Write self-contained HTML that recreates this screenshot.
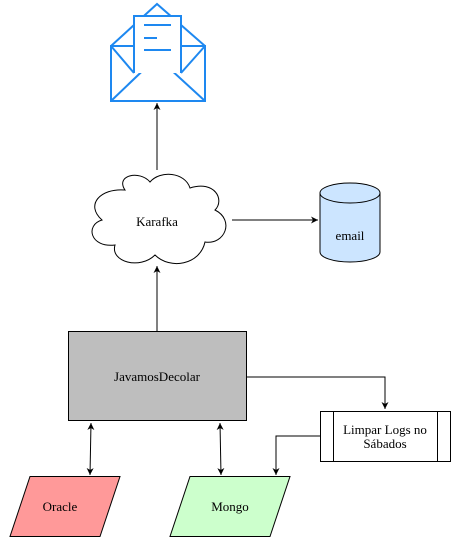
<html><body style="margin:0;background:#fff">
<svg width="451" height="537" xmlns="http://www.w3.org/2000/svg" style="font-family:'Liberation Serif',serif;font-size:13px">
<defs><marker id="a" markerWidth="8" markerHeight="8" refX="7" refY="4" orient="auto-start-reverse" markerUnits="userSpaceOnUse"><path d="M0,0.5 L7,4 L0,7.5 L2,4 z" fill="#000"/></marker></defs>
<g fill="none" stroke="#1e88f0" stroke-width="2">
<rect x="111" y="46" width="94" height="55"/>
<path d="M111,46 L157,4 L205,46"/>
<path d="M111,101 L157,57 L205,101"/>
<path d="M134,73 L134,16 L181,16 L181,73" fill="#fff"/>
<path d="M111,46 L134,73 M205,46 L181,73"/>
<path d="M144,25 L171,25 M144,38 L157,38 M144,50 L171,50"/>
</g>
<path d="M157,170 L157,103" stroke="#000" marker-end="url(#a)"/>
<path d="M125,190 C115,175 140,170 150,182 C160,170 185,172 190,188 C215,180 225,200 215,210 C235,220 225,245 205,242 C200,265 170,270 155,255 C140,270 110,262 115,245 C90,248 85,225 102,220 C85,205 100,188 125,190 Z" fill="#fff" stroke="#000"/>
<text x="157" y="226" text-anchor="middle">Karafka</text>
<path d="M232,220 L318,220" stroke="#000" marker-end="url(#a)"/>
<path d="M320,193 L320,252 A30,10 0 0 0 380,252 L380,193" fill="#cce5ff" stroke="#000"/>
<ellipse cx="350" cy="193" rx="30" ry="10" fill="#cce5ff" stroke="#000"/>
<text x="350" y="240" text-anchor="middle">email</text>
<path d="M157,331 L157,266" stroke="#000" marker-end="url(#a)"/>
<rect x="68.5" y="331.5" width="178" height="89" fill="#bebebe" stroke="#000"/>
<text x="157" y="381" text-anchor="middle">JavamosDecolar</text>
<path d="M246,377 L385,377 L385,409" fill="none" stroke="#000" marker-end="url(#a)"/>
<rect x="320.5" y="411.5" width="130" height="50" fill="#fff" stroke="#000"/>
<path d="M333.5,411.5 L333.5,461.5 M437.5,411.5 L437.5,461.5" stroke="#000"/>
<text x="385" y="434" text-anchor="middle">Limpar Logs no</text>
<text x="385" y="448" text-anchor="middle">Sábados</text>
<path d="M320,436 L276,436 L276,475" fill="none" stroke="#000" marker-end="url(#a)"/>
<path d="M91,423 L90,475" stroke="#000" marker-start="url(#a)" marker-end="url(#a)"/>
<path d="M220,423 L221,475" stroke="#000" marker-start="url(#a)" marker-end="url(#a)"/>
<path d="M30,476.5 L120,476.5 L100,536.5 L10,536.5 Z" fill="#ff9999" stroke="#000"/>
<text x="60" y="511" text-anchor="middle">Oracle</text>
<path d="M190,476.5 L290,476.5 L270,536.5 L170,536.5 Z" fill="#ccffcc" stroke="#000"/>
<text x="230" y="511" text-anchor="middle">Mongo</text>
</svg>
</body></html>
